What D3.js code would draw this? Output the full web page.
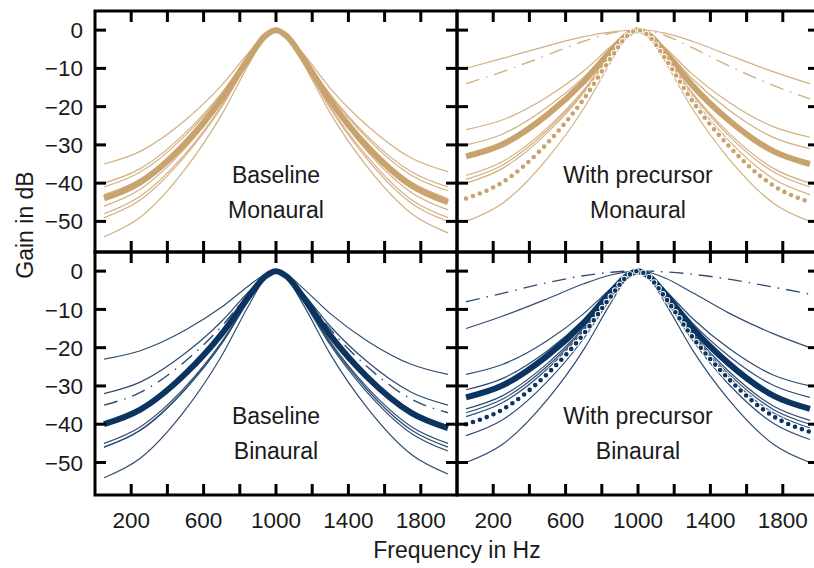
<!DOCTYPE html>
<html>
<head>
<meta charset="utf-8">
<script src="https://cdn.jsdelivr.net/npm/d3@7"></script>
<style>
  html, body { margin: 0; padding: 0; background: #ffffff; }
  svg { display: block; }
  text { font-family: "Liberation Sans", Arial, sans-serif; fill: #1a1a1a; }
</style>
</head>
<body>
<svg id="chart" width="814" height="568"></svg>
<script>
// ---------------- data ----------------
const freqs = [50, 250, 500, 700, 850, 940, 1000, 1060, 1150, 1300, 1500, 1750, 1950];
const xTicks = [200, 400, 600, 800, 1000, 1200, 1400, 1600, 1800];
const xTickLabels = [200, 600, 1000, 1400, 1800];
const yTicks = [0, -10, -20, -30, -40, -50];

// Baseline, Monaural
const bmThin = [
  [-35, -31.7, -23.5, -14.4, -5.8, -1.2, 0, -1.3, -6.1, -15.2, -24.8, -33.5, -37],
  [-40, -36.2, -26.8, -16.4, -6.6, -1.4, 0, -1.4, -6.8, -16.8, -27.5, -37.1, -41],
  [-41, -37.1, -27.5, -16.8, -6.8, -1.4, 0, -1.5, -6.9, -17.2, -28.1, -38, -42],
  [-43, -38.9, -28.8, -17.6, -7.1, -1.5, 0, -1.5, -7.3, -18, -29.5, -39.8, -44],
  [-46, -41.6, -30.8, -18.9, -7.6, -1.6, 0, -1.6, -7.8, -19.3, -31.5, -42.5, -47],
  [-48, -43.4, -32.2, -19.7, -7.9, -1.7, 0, -1.7, -8.1, -20.1, -32.8, -44.4, -49],
  [-49, -44.4, -32.8, -20.1, -8.1, -1.7, 0, -1.8, -8.3, -20.5, -33.5, -45.3, -50],
  [-54, -48.9, -36.2, -22.1, -8.9, -1.9, 0, -1.9, -8.7, -21.7, -35.5, -48, -53]
];
const bmThick = [-44, -39.8, -29.5, -18, -7.3, -1.5, 0, -1.6, -7.4, -18.5, -30.2, -40.7, -45];

// With precursor, Monaural
const pmThin = [
  [-10, -7.4, -4.1, -1.7, -0.5, -0.1, 0, -0.1, -0.8, -2.9, -6.5, -10.9, -14],
  [-26, -23.5, -17.4, -10.7, -4.3, -0.9, 0, -1, -4.6, -11.5, -18.8, -25.3, -28],
  [-30, -27.2, -20.1, -12.3, -5, -1.1, 0, -1.1, -5.1, -12.7, -20.8, -28.1, -31],
  [-38, -34.4, -25.5, -15.6, -6.3, -1.3, 0, -1.4, -6.6, -16.4, -26.8, -36.2, -40],
  [-39, -35.3, -26.1, -16, -6.4, -1.4, 0, -1.4, -6.8, -16.8, -27.5, -37.1, -41],
  [-40, -36.2, -26.8, -16.4, -6.6, -1.4, 0, -1.5, -7.1, -17.6, -28.8, -38.9, -43],
  [-50, -45.3, -33.5, -20.5, -8.3, -1.8, 0, -1.8, -8.3, -20.5, -33.5, -45.3, -50]
];
const pmThick = [-33, -29.9, -22.1, -13.5, -5.5, -1.2, 0, -1.2, -5.8, -14.4, -23.5, -31.7, -35];
const pmDashDot = [-14, -10.9, -6.5, -2.9, -0.8, -0.1, 0, -0.2, -1.4, -4.6, -9.3, -14.5, -18];
const pmDotted = [-44, -39.8, -29.5, -18, -7.3, -1.5, 0, -1.6, -7.4, -18.5, -30.2, -40.7, -45];

// Baseline, Binaural
const bbThin = [
  [-23, -20.8, -15.4, -9.4, -3.8, -0.8, 0, -0.9, -4.5, -11.1, -18.1, -24.4, -27],
  [-32, -29, -21.4, -13.1, -5.3, -1.1, 0, -1.2, -5.8, -14.4, -23.5, -31.7, -35],
  [-45, -40.7, -30.2, -18.5, -7.4, -1.6, 0, -1.6, -7.4, -18.5, -30.2, -40.7, -45],
  [-46, -41.6, -30.8, -18.9, -7.6, -1.6, 0, -1.6, -7.6, -18.9, -30.8, -41.6, -46],
  [-46, -41.6, -30.8, -18.9, -7.6, -1.6, 0, -1.6, -7.8, -19.3, -31.5, -42.5, -47],
  [-54, -48.9, -36.2, -22.1, -8.9, -1.9, 0, -1.9, -8.7, -21.7, -35.5, -48, -53]
];
const bbThick = [-40, -36.2, -26.8, -16.4, -6.6, -1.4, 0, -1.4, -6.8, -16.8, -27.5, -37.1, -41];
const bbDashDot = [-35, -31.7, -23.5, -14.4, -5.8, -1.2, 0, -1.3, -6.1, -15.2, -24.8, -33.5, -37];

// With precursor, Binaural
const pbThin = [
  [-15, -11.8, -7.2, -3.3, -1, -0.2, 0, -0.3, -1.8, -5.6, -10.9, -16.4, -20],
  [-27, -24.4, -18.1, -11.1, -4.5, -0.9, 0, -1.1, -5, -12.3, -20.1, -27.2, -30],
  [-31, -28.1, -20.8, -12.7, -5.1, -1.1, 0, -1.2, -5.4, -13.5, -22.1, -29.9, -33],
  [-36, -32.6, -24.1, -14.8, -5.9, -1.3, 0, -1.4, -6.4, -16, -26.1, -35.3, -39],
  [-37, -33.5, -24.8, -15.2, -6.1, -1.3, 0, -1.4, -6.6, -16.4, -26.8, -36.2, -40],
  [-38, -34.4, -25.5, -15.6, -6.3, -1.3, 0, -1.4, -6.8, -16.8, -27.5, -37.1, -41],
  [-43, -38.9, -28.8, -17.6, -7.1, -1.5, 0, -1.5, -7.3, -18, -29.5, -39.8, -44],
  [-50, -45.3, -33.5, -20.5, -8.3, -1.8, 0, -1.8, -8.3, -20.5, -33.5, -45.3, -50]
];
const pbThick = [-33, -29.9, -22.1, -13.5, -5.5, -1.2, 0, -1.3, -5.9, -14.8, -24.1, -32.6, -36];
const pbDashDot = [-8, -5.8, -3, -1.2, -0.3, 0, 0, 0, -0.2, -0.8, -2.1, -4.2, -6];
const pbDotted = [-40, -36.2, -26.8, -16.4, -6.6, -1.4, 0, -1.5, -6.9, -17.2, -28.1, -38, -42];

const panelLabels = [["Baseline", "Monaural"], ["With precursor", "Monaural"],
                     ["Baseline", "Binaural"], ["With precursor", "Binaural"]];

// ---------------- layout ----------------
const TAN = "#c9a36d", TAN_THIN = "#d2b081";
const NAVY = "#0c3461", NAVY_THIN = "#2f4d74";
const svg = d3.select("#chart");

const cols = [[95, 457], [457, 819]];
const rows = [{range: [11, 252], dom: [5, -58]}, {range: [252, 495], dom: [5, -58.5]}];

const panels = [
  {c: 0, r: 0, thin: bmThin, thick: bmThick, color: TAN, thinColor: TAN_THIN, labels: panelLabels[0]},
  {c: 1, r: 0, thin: pmThin, thick: pmThick, dashDot: pmDashDot, dotted: pmDotted, color: TAN, thinColor: TAN_THIN, labels: panelLabels[1]},
  {c: 0, r: 1, thin: bbThin, thick: bbThick, dashDot: bbDashDot, color: NAVY, thinColor: NAVY_THIN, labels: panelLabels[2]},
  {c: 1, r: 1, thin: pbThin, thick: pbThick, dashDot: pbDashDot, dotted: pbDotted, color: NAVY, thinColor: NAVY_THIN, labels: panelLabels[3]}
];

panels.forEach(p => {
  const x = d3.scaleLinear().domain([0, 2000]).range(cols[p.c]);
  const y = d3.scaleLinear().domain(rows[p.r].dom).range(rows[p.r].range);
  const g = svg.append("g");
  const line = d3.line().x((d, i) => x(freqs[i])).y(d => y(d)).curve(d3.curveMonotoneX);

  // panel labels
  const cx = x(1000);
  g.append("text").attr("x", cx).attr("y", y(0) + 153).attr("text-anchor", "middle")
    .style("font-size", "23px").text(p.labels[0]);
  g.append("text").attr("x", cx).attr("y", y(0) + 188).attr("text-anchor", "middle")
    .style("font-size", "23px").text(p.labels[1]);

  // thin curves
  g.selectAll("path.thin").data(p.thin).join("path").attr("class", "thin")
    .attr("d", line).attr("fill", "none").attr("stroke", p.thinColor)
    .attr("stroke-width", 1.2);

  if (p.dashDot) {
    g.append("path").attr("d", line(p.dashDot)).attr("fill", "none")
      .attr("stroke", p.thinColor).attr("stroke-width", 1.4)
      .attr("stroke-dasharray", "14,7,1.5,7");
  }
  g.append("path").attr("d", line(p.thick)).attr("fill", "none")
    .attr("stroke", p.color).attr("stroke-width", 6);
  if (p.dotted) {
    g.append("path").attr("d", line(p.dotted)).attr("fill", "none")
      .attr("stroke", "#ffffff").attr("stroke-width", 6.5).attr("stroke-linecap", "round")
      .attr("stroke-dasharray", "0,7.3");
    g.append("path").attr("d", line(p.dotted)).attr("fill", "none")
      .attr("stroke", p.color).attr("stroke-width", 4.6).attr("stroke-linecap", "round")
      .attr("stroke-dasharray", "0,7.3");
  }

  // frame
  const [x0, x1] = cols[p.c], [y0, y1] = rows[p.r].range;
  g.append("rect").attr("x", x0).attr("y", y0).attr("width", x1 - x0).attr("height", y1 - y0)
    .attr("fill", "none").attr("stroke", "#000").attr("stroke-width", 3);

  // ticks (inward, on all sides)
  const TL = 11;
  g.selectAll("line.yl").data(yTicks).join("line").attr("class", "yl")
    .attr("x1", x0).attr("x2", x0 + TL).attr("y1", d => y(d)).attr("y2", d => y(d))
    .attr("stroke", "#000").attr("stroke-width", 3);
  g.selectAll("line.yr").data(yTicks).join("line").attr("class", "yr")
    .attr("x1", x1).attr("x2", x1 - TL).attr("y1", d => y(d)).attr("y2", d => y(d))
    .attr("stroke", "#000").attr("stroke-width", 3);
  g.selectAll("line.xt").data(xTicks).join("line").attr("class", "xt")
    .attr("x1", d => x(d)).attr("x2", d => x(d)).attr("y1", y0).attr("y2", y0 + TL)
    .attr("stroke", "#000").attr("stroke-width", 3);
  g.selectAll("line.xb").data(xTicks).join("line").attr("class", "xb")
    .attr("x1", d => x(d)).attr("x2", d => x(d)).attr("y1", y1).attr("y2", y1 - TL)
    .attr("stroke", "#000").attr("stroke-width", 3);

  if (p.c === 0) {
    g.selectAll("text.ylab").data(yTicks).join("text").attr("class", "ylab")
      .attr("x", x0 - 12).attr("y", d => y(d)).attr("dy", "0.36em")
      .attr("text-anchor", "end").style("font-size", "22.5px")
      .text(d => d === 0 ? "0" : "\u2212" + Math.abs(d));
  }
  if (p.r === 1) {
    g.selectAll("text.xlab").data(xTickLabels).join("text").attr("class", "xlab")
      .attr("x", d => x(d)).attr("y", y1 + 33).attr("text-anchor", "middle")
      .style("font-size", "22.5px").text(d => d);
  }
});

// axis titles
svg.append("text").attr("transform", "translate(33,225) rotate(-90)")
  .attr("text-anchor", "middle").style("font-size", "23px").text("Gain in dB");
svg.append("text").attr("x", 457).attr("y", 558).attr("text-anchor", "middle")
  .style("font-size", "23px").text("Frequency in Hz");
</script>
</body>
</html>
